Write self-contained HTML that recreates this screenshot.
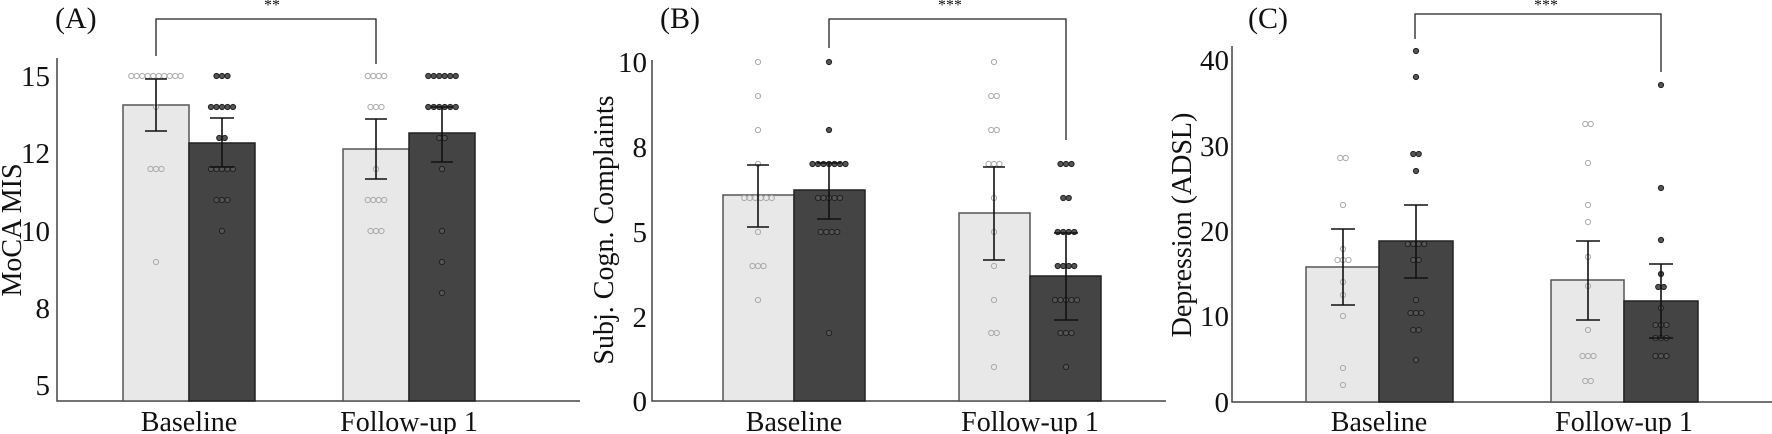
<!DOCTYPE html>
<html><head><meta charset="utf-8"><style>
html,body{margin:0;padding:0;background:#fff;width:1772px;height:434px;overflow:hidden}
svg text{font-family:"Liberation Serif",serif;fill:#111}
</style></head><body>
<svg id="s" width="1772" height="434" viewBox="0 0 1772 434" xmlns="http://www.w3.org/2000/svg">
<g stroke="#444" stroke-width="1.5" fill="none">
<path d="M57,58 V401 H580"/>
<path d="M652,60 V401 H1166"/>
<path d="M1232,46 V402 H1772"/>
</g>
<g stroke="#555" stroke-width="1.5">
<rect x="123" y="105" width="66" height="296" fill="#e8e8e8"/>
<rect x="189" y="143" width="66" height="258" fill="#444" stroke="#222"/>
<rect x="343" y="149" width="66" height="252" fill="#e8e8e8"/>
<rect x="409" y="133" width="66" height="268" fill="#444" stroke="#222"/>
<rect x="723" y="195" width="71" height="206" fill="#e8e8e8"/>
<rect x="794" y="190" width="71" height="211" fill="#444" stroke="#222"/>
<rect x="959" y="213" width="71" height="188" fill="#e8e8e8"/>
<rect x="1030" y="276" width="71" height="125" fill="#444" stroke="#222"/>
<rect x="1306" y="267" width="73" height="135" fill="#e8e8e8"/>
<rect x="1379" y="241" width="74" height="161" fill="#444" stroke="#222"/>
<rect x="1551" y="280" width="73" height="122" fill="#e8e8e8"/>
<rect x="1624" y="301" width="74" height="101" fill="#444" stroke="#222"/>
</g>
<g id="dots"></g>
<g id="err" stroke="#111" stroke-width="1.6" fill="none"></g>
<g stroke="#222" stroke-width="1.3" fill="none">
<path d="M156,56 V19 H376 V64"/>
<path d="M829,48 V19 H1066 V140"/>
<path d="M1415,39 V14 H1661 V72"/>
</g>
<g font-size="16" text-anchor="middle">
<text x="272" y="10">**</text>
<text x="950" y="10">***</text>
<text x="1546" y="10">***</text>
</g>
<g font-size="30">
<text x="55" y="28">(A)</text>
<text x="660" y="28">(B)</text>
<text x="1248" y="28">(C)</text>
</g>
<g font-size="29" text-anchor="end">
<text x="50" y="86">15</text><text x="50" y="163">12</text><text x="50" y="241">10</text><text x="50" y="318">8</text><text x="50" y="395">5</text>
<text x="647" y="72">10</text><text x="647" y="157">8</text><text x="647" y="242">5</text><text x="647" y="327">2</text><text x="647" y="411">0</text>
<text x="1229" y="70">40</text><text x="1229" y="156">30</text><text x="1229" y="241">20</text><text x="1229" y="326">10</text><text x="1229" y="412">0</text>
</g>
<g font-size="28" text-anchor="middle">
<text x="189" y="431">Baseline</text><text x="409" y="431">Follow-up 1</text>
<text x="794" y="431">Baseline</text><text x="1030" y="431">Follow-up 1</text>
<text x="1379" y="431">Baseline</text><text x="1624" y="431">Follow-up 1</text>
</g>
<g font-size="28" text-anchor="middle">
<text transform="translate(21,230) rotate(-90)">MoCA MIS</text>
<text transform="translate(613,230) rotate(-90)">Subj. Cogn. Complaints</text>
<text transform="translate(1191,225) rotate(-90)">Depression (ADSL)</text>
</g>
</svg>
<script>
var NS="http://www.w3.org/2000/svg";
var d=document.getElementById("dots"),e=document.getElementById("err");
function dots(x,rows,dark){rows.forEach(function(r){var y=r[0],n=r[1]||1;for(var i=0;i<n;i++){var c=document.createElementNS(NS,"circle");c.setAttribute("cx",x+(i-(n-1)/2)*5.5);c.setAttribute("cy",y);c.setAttribute("r",2.6);c.setAttribute("fill",dark?"#555":"none");c.setAttribute("stroke",dark?"#222":"#aaa");c.setAttribute("stroke-width","1");d.appendChild(c);}});}
function err(x,y1,y2,w){var p=document.createElementNS(NS,"path");p.setAttribute("d","M"+(x-w)+","+y1+"H"+(x+w)+"M"+x+","+y1+"V"+y2+"M"+(x-w)+","+y2+"H"+(x+w));e.appendChild(p);}
dots(156,[[76,10],[107,1],[169,3],[262,1]],0);
dots(222,[[76,3],[107,5],[138,2],[169,5],[200,3],[231,1]],1);
dots(376,[[76,4],[107,3],[169,1],[200,4],[231,3]],0);
dots(442,[[76,6],[107,6],[138,2],[169,1],[231,1],[262,1],[293,1]],1);
dots(758,[[62],[96],[130],[164],[198,6],[232],[266,3],[300]],0);
dots(829,[[62],[130],[164,7],[198,5],[232,4],[333]],1);
dots(994,[[62],[96,2],[130,2],[164,3],[198],[232],[266],[300],[333,2],[367]],0);
dots(1066,[[164,3],[198,2],[232,4],[266,4],[300,5],[333,3],[367]],1);
dots(1343,[[158,2],[205],[249],[260,3],[282],[295],[316],[368],[385]],0);
dots(1416,[[51],[77],[154,2],[171],[244,4],[260,2],[300],[313,3],[330,2],[360]],1);
dots(1588,[[124,2],[163],[205],[222],[257],[286],[330],[356,3],[381,2]],0);
dots(1661,[[85],[188],[240],[274],[287,2],[308],[325,3],[338,3],[356,3]],1);
err(156,79,131,11);err(222,118,167,12);err(376,119,179,11);err(442,107,162,11);
err(758,165,227,11);err(829,163,219,12);err(994,167,260,11);err(1066,233,320,12);
err(1343,229,305,12);err(1416,205,278,12);err(1588,241,320,12);err(1661,264,338,12);
</script>
</body></html>
